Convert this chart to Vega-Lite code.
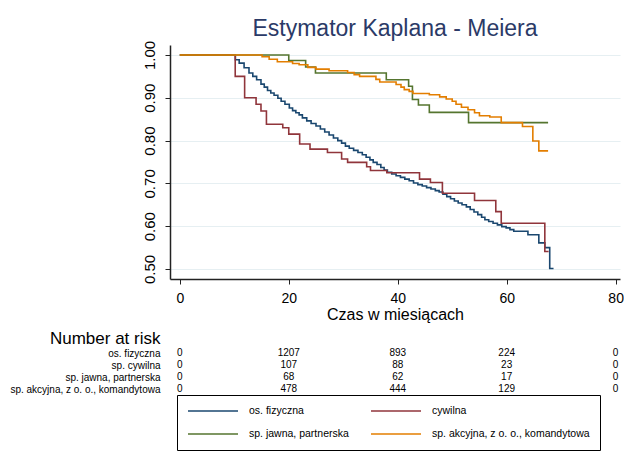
{
  "$schema": "https://vega.github.io/schema/vega-lite/v6.json",
  "background": "white",
  "padding": {"left": 9, "top": 18, "right": 0, "bottom": 4},
  "config": {
    "font": "Liberation Sans",
    "view": {"stroke": null},
    "axis": {"labelColor": "black", "titleColor": "black", "domainColor": "#222222", "tickColor": "#222222", "titleFontWeight": "normal"}
  },
  "bounds": "flush",
  "spacing": 68,
  "resolve": {"legend": {"color": "independent"}},
  "datasets": {
    "km": [
      {"g": "os. fizyczna", "t": 0, "s": 1.0},
      {"g": "os. fizyczna", "t": 10.2, "s": 0.989},
      {"g": "os. fizyczna", "t": 10.9, "s": 0.981},
      {"g": "os. fizyczna", "t": 11.8, "s": 0.970},
      {"g": "os. fizyczna", "t": 12.7, "s": 0.958},
      {"g": "os. fizyczna", "t": 13.4, "s": 0.950},
      {"g": "os. fizyczna", "t": 14.1, "s": 0.942},
      {"g": "os. fizyczna", "t": 14.9, "s": 0.932},
      {"g": "os. fizyczna", "t": 15.5, "s": 0.925},
      {"g": "os. fizyczna", "t": 16.1, "s": 0.917},
      {"g": "os. fizyczna", "t": 16.7, "s": 0.911},
      {"g": "os. fizyczna", "t": 17.3, "s": 0.906},
      {"g": "os. fizyczna", "t": 18.0, "s": 0.899},
      {"g": "os. fizyczna", "t": 18.6, "s": 0.892},
      {"g": "os. fizyczna", "t": 19.3, "s": 0.885},
      {"g": "os. fizyczna", "t": 20.1, "s": 0.876},
      {"g": "os. fizyczna", "t": 20.7, "s": 0.870},
      {"g": "os. fizyczna", "t": 21.3, "s": 0.865},
      {"g": "os. fizyczna", "t": 21.9, "s": 0.860},
      {"g": "os. fizyczna", "t": 22.5, "s": 0.853},
      {"g": "os. fizyczna", "t": 23.3, "s": 0.846},
      {"g": "os. fizyczna", "t": 24.1, "s": 0.840},
      {"g": "os. fizyczna", "t": 25.0, "s": 0.834},
      {"g": "os. fizyczna", "t": 25.8, "s": 0.827},
      {"g": "os. fizyczna", "t": 26.6, "s": 0.820},
      {"g": "os. fizyczna", "t": 27.4, "s": 0.813},
      {"g": "os. fizyczna", "t": 28.2, "s": 0.806},
      {"g": "os. fizyczna", "t": 29.0, "s": 0.800},
      {"g": "os. fizyczna", "t": 29.7, "s": 0.794},
      {"g": "os. fizyczna", "t": 30.4, "s": 0.787},
      {"g": "os. fizyczna", "t": 31.1, "s": 0.782},
      {"g": "os. fizyczna", "t": 31.9, "s": 0.777},
      {"g": "os. fizyczna", "t": 32.7, "s": 0.772},
      {"g": "os. fizyczna", "t": 33.5, "s": 0.767},
      {"g": "os. fizyczna", "t": 34.2, "s": 0.761},
      {"g": "os. fizyczna", "t": 34.9, "s": 0.755},
      {"g": "os. fizyczna", "t": 35.5, "s": 0.749},
      {"g": "os. fizyczna", "t": 36.2, "s": 0.744},
      {"g": "os. fizyczna", "t": 36.9, "s": 0.737},
      {"g": "os. fizyczna", "t": 37.5, "s": 0.731},
      {"g": "os. fizyczna", "t": 38.1, "s": 0.726},
      {"g": "os. fizyczna", "t": 38.9, "s": 0.722},
      {"g": "os. fizyczna", "t": 39.7, "s": 0.718},
      {"g": "os. fizyczna", "t": 40.5, "s": 0.714},
      {"g": "os. fizyczna", "t": 41.3, "s": 0.710},
      {"g": "os. fizyczna", "t": 42.1, "s": 0.706},
      {"g": "os. fizyczna", "t": 42.9, "s": 0.701},
      {"g": "os. fizyczna", "t": 43.7, "s": 0.697},
      {"g": "os. fizyczna", "t": 44.5, "s": 0.694},
      {"g": "os. fizyczna", "t": 45.3, "s": 0.690},
      {"g": "os. fizyczna", "t": 46.1, "s": 0.687},
      {"g": "os. fizyczna", "t": 46.9, "s": 0.683},
      {"g": "os. fizyczna", "t": 47.6, "s": 0.680},
      {"g": "os. fizyczna", "t": 48.3, "s": 0.675},
      {"g": "os. fizyczna", "t": 49.0, "s": 0.669},
      {"g": "os. fizyczna", "t": 49.7, "s": 0.664},
      {"g": "os. fizyczna", "t": 50.4, "s": 0.659},
      {"g": "os. fizyczna", "t": 51.1, "s": 0.654},
      {"g": "os. fizyczna", "t": 51.8, "s": 0.650},
      {"g": "os. fizyczna", "t": 52.6, "s": 0.645},
      {"g": "os. fizyczna", "t": 53.3, "s": 0.639},
      {"g": "os. fizyczna", "t": 54.0, "s": 0.633},
      {"g": "os. fizyczna", "t": 54.7, "s": 0.627},
      {"g": "os. fizyczna", "t": 55.4, "s": 0.621},
      {"g": "os. fizyczna", "t": 56.0, "s": 0.615},
      {"g": "os. fizyczna", "t": 56.7, "s": 0.611},
      {"g": "os. fizyczna", "t": 57.5, "s": 0.607},
      {"g": "os. fizyczna", "t": 58.3, "s": 0.603},
      {"g": "os. fizyczna", "t": 59.1, "s": 0.599},
      {"g": "os. fizyczna", "t": 59.9, "s": 0.596},
      {"g": "os. fizyczna", "t": 60.6, "s": 0.592},
      {"g": "os. fizyczna", "t": 61.3, "s": 0.588},
      {"g": "os. fizyczna", "t": 63.9, "s": 0.580},
      {"g": "os. fizyczna", "t": 65.9, "s": 0.561},
      {"g": "os. fizyczna", "t": 67.0, "s": 0.550},
      {"g": "os. fizyczna", "t": 67.9, "s": 0.501},
      {"g": "os. fizyczna", "t": 68.6, "s": 0.501},

      {"g": "cywilna", "t": 0, "s": 1.0},
      {"g": "cywilna", "t": 10.17, "s": 0.950},
      {"g": "cywilna", "t": 11.9, "s": 0.900},
      {"g": "cywilna", "t": 14.0, "s": 0.885},
      {"g": "cywilna", "t": 14.9, "s": 0.869},
      {"g": "cywilna", "t": 15.9, "s": 0.838},
      {"g": "cywilna", "t": 18.9, "s": 0.830},
      {"g": "cywilna", "t": 20.0, "s": 0.815},
      {"g": "cywilna", "t": 22.0, "s": 0.792},
      {"g": "cywilna", "t": 23.9, "s": 0.780},
      {"g": "cywilna", "t": 27.1, "s": 0.772},
      {"g": "cywilna", "t": 29.7, "s": 0.757},
      {"g": "cywilna", "t": 30.8, "s": 0.749},
      {"g": "cywilna", "t": 34.3, "s": 0.739},
      {"g": "cywilna", "t": 35.0, "s": 0.730},
      {"g": "cywilna", "t": 38.0, "s": 0.725},
      {"g": "cywilna", "t": 44.0, "s": 0.710},
      {"g": "cywilna", "t": 46.0, "s": 0.702},
      {"g": "cywilna", "t": 48.2, "s": 0.677},
      {"g": "cywilna", "t": 54.1, "s": 0.660},
      {"g": "cywilna", "t": 58.0, "s": 0.634},
      {"g": "cywilna", "t": 59.0, "s": 0.607},
      {"g": "cywilna", "t": 67.0, "s": 0.541},
      {"g": "cywilna", "t": 67.7, "s": 0.541},

      {"g": "sp. jawna, partnerska", "t": 0, "s": 1.0},
      {"g": "sp. jawna, partnerska", "t": 20.0, "s": 0.987},
      {"g": "sp. jawna, partnerska", "t": 23.1, "s": 0.972},
      {"g": "sp. jawna, partnerska", "t": 24.9, "s": 0.958},
      {"g": "sp. jawna, partnerska", "t": 37.9, "s": 0.942},
      {"g": "sp. jawna, partnerska", "t": 42.0, "s": 0.927},
      {"g": "sp. jawna, partnerska", "t": 42.7, "s": 0.896},
      {"g": "sp. jawna, partnerska", "t": 43.8, "s": 0.883},
      {"g": "sp. jawna, partnerska", "t": 45.8, "s": 0.866},
      {"g": "sp. jawna, partnerska", "t": 53.0, "s": 0.842},
      {"g": "sp. jawna, partnerska", "t": 67.6, "s": 0.842},

      {"g": "sp. akcyjna, z o. o., komandytowa", "t": 0, "s": 1.0},
      {"g": "sp. akcyjna, z o. o., komandytowa", "t": 15.1, "s": 0.996},
      {"g": "sp. akcyjna, z o. o., komandytowa", "t": 16.4, "s": 0.990},
      {"g": "sp. akcyjna, z o. o., komandytowa", "t": 17.9, "s": 0.984},
      {"g": "sp. akcyjna, z o. o., komandytowa", "t": 20.7, "s": 0.980},
      {"g": "sp. akcyjna, z o. o., komandytowa", "t": 21.9, "s": 0.977},
      {"g": "sp. akcyjna, z o. o., komandytowa", "t": 23.5, "s": 0.971},
      {"g": "sp. akcyjna, z o. o., komandytowa", "t": 25.0, "s": 0.967},
      {"g": "sp. akcyjna, z o. o., komandytowa", "t": 27.4, "s": 0.963},
      {"g": "sp. akcyjna, z o. o., komandytowa", "t": 30.8, "s": 0.959},
      {"g": "sp. akcyjna, z o. o., komandytowa", "t": 32.0, "s": 0.954},
      {"g": "sp. akcyjna, z o. o., komandytowa", "t": 33.0, "s": 0.950},
      {"g": "sp. akcyjna, z o. o., komandytowa", "t": 36.0, "s": 0.943},
      {"g": "sp. akcyjna, z o. o., komandytowa", "t": 36.7, "s": 0.937},
      {"g": "sp. akcyjna, z o. o., komandytowa", "t": 39.7, "s": 0.931},
      {"g": "sp. akcyjna, z o. o., komandytowa", "t": 40.6, "s": 0.925},
      {"g": "sp. akcyjna, z o. o., komandytowa", "t": 41.2, "s": 0.919},
      {"g": "sp. akcyjna, z o. o., komandytowa", "t": 42.1, "s": 0.915},
      {"g": "sp. akcyjna, z o. o., komandytowa", "t": 42.8, "s": 0.910},
      {"g": "sp. akcyjna, z o. o., komandytowa", "t": 45.8, "s": 0.907},
      {"g": "sp. akcyjna, z o. o., komandytowa", "t": 47.7, "s": 0.902},
      {"g": "sp. akcyjna, z o. o., komandytowa", "t": 48.9, "s": 0.897},
      {"g": "sp. akcyjna, z o. o., komandytowa", "t": 50.0, "s": 0.892},
      {"g": "sp. akcyjna, z o. o., komandytowa", "t": 50.7, "s": 0.885},
      {"g": "sp. akcyjna, z o. o., komandytowa", "t": 51.7, "s": 0.878},
      {"g": "sp. akcyjna, z o. o., komandytowa", "t": 52.9, "s": 0.872},
      {"g": "sp. akcyjna, z o. o., komandytowa", "t": 54.1, "s": 0.865},
      {"g": "sp. akcyjna, z o. o., komandytowa", "t": 55.0, "s": 0.858},
      {"g": "sp. akcyjna, z o. o., komandytowa", "t": 56.9, "s": 0.855},
      {"g": "sp. akcyjna, z o. o., komandytowa", "t": 59.0, "s": 0.842},
      {"g": "sp. akcyjna, z o. o., komandytowa", "t": 62.9, "s": 0.833},
      {"g": "sp. akcyjna, z o. o., komandytowa", "t": 64.8, "s": 0.799},
      {"g": "sp. akcyjna, z o. o., komandytowa", "t": 65.9, "s": 0.776},
      {"g": "sp. akcyjna, z o. o., komandytowa", "t": 67.6, "s": 0.776}
    ],
    "risk": [
      {"grupa": "os. fizyczna", "t": 0, "n": 0},
      {"grupa": "os. fizyczna", "t": 20, "n": 1207},
      {"grupa": "os. fizyczna", "t": 40, "n": 893},
      {"grupa": "os. fizyczna", "t": 60, "n": 224},
      {"grupa": "os. fizyczna", "t": 80, "n": 0},
      {"grupa": "sp. cywilna", "t": 0, "n": 0},
      {"grupa": "sp. cywilna", "t": 20, "n": 107},
      {"grupa": "sp. cywilna", "t": 40, "n": 88},
      {"grupa": "sp. cywilna", "t": 60, "n": 23},
      {"grupa": "sp. cywilna", "t": 80, "n": 0},
      {"grupa": "sp. jawna, partnerska", "t": 0, "n": 0},
      {"grupa": "sp. jawna, partnerska", "t": 20, "n": 68},
      {"grupa": "sp. jawna, partnerska", "t": 40, "n": 62},
      {"grupa": "sp. jawna, partnerska", "t": 60, "n": 17},
      {"grupa": "sp. jawna, partnerska", "t": 80, "n": 0},
      {"grupa": "sp. akcyjna, z o. o., komandytowa", "t": 0, "n": 0},
      {"grupa": "sp. akcyjna, z o. o., komandytowa", "t": 20, "n": 478},
      {"grupa": "sp. akcyjna, z o. o., komandytowa", "t": 40, "n": 444},
      {"grupa": "sp. akcyjna, z o. o., komandytowa", "t": 60, "n": 129},
      {"grupa": "sp. akcyjna, z o. o., komandytowa", "t": 80, "n": 0}
    ]
  },
  "vconcat": [
    {
      "title": {"text": "Estymator Kaplana - Meiera", "fontSize": 23, "fontWeight": "normal", "color": "#2b3a67", "anchor": "middle", "offset": -1},
      "width": 450,
      "height": 234,
      "data": {"name": "km"},
      "mark": {"type": "line", "interpolate": "step-after", "strokeWidth": 1.6},
      "encoding": {
        "x": {
          "field": "t", "type": "quantitative",
          "scale": {"domain": [-1.8, 80.8], "nice": false, "zero": false},
          "axis": {"values": [0, 20, 40, 60, 80], "title": "Czas w miesiącach", "titleFontSize": 16, "titlePadding": 1, "labelFontSize": 14, "labelPadding": 7, "tickSize": 5, "grid": false, "domainWidth": 1.5}
        },
        "y": {
          "field": "s", "type": "quantitative",
          "scale": {"domain": [0.4766, 1.0233], "nice": false, "zero": false},
          "axis": {"values": [0.5, 0.6, 0.7, 0.8, 0.9, 1.0], "format": ".2f", "title": null, "labelAngle": -90, "labelAlign": "center", "labelBaseline": "bottom", "labelFontSize": 15, "labelPadding": 8, "tickSize": 5, "domainWidth": 1.5, "grid": true, "gridColor": "#e6eff2", "gridWidth": 1.2}
        },
        "color": {
          "field": "g", "type": "nominal",
          "scale": {
            "domain": ["os. fizyczna", "sp. jawna, partnerska", "cywilna", "sp. akcyjna, z o. o., komandytowa"],
            "range": ["#1a476f", "#55752f", "#90353b", "#e37e00"]
          },
          "legend": {
            "orient": "none", "legendX": 7, "legendY": 350, "title": null,
            "columns": 2, "symbolType": "stroke", "symbolSize": 2500, "symbolStrokeWidth": 1.6,
            "labelFontSize": 10.5, "labelColor": "black", "labelOffset": 10, "labelLimit": 400,
            "strokeColor": "black", "padding": 10, "clipHeight": 12, "rowPadding": 11, "columnPadding": 21
          }
        }
      }
    },
    {
      "width": 450,
      "height": 48,
      "data": {"name": "risk"},
      "mark": {"type": "text", "fontSize": 10, "color": "black"},
      "encoding": {
        "x": {"field": "t", "type": "quantitative", "scale": {"domain": [-1.8, 80.8], "nice": false, "zero": false}, "axis": null},
        "y": {
          "field": "grupa", "type": "nominal",
          "sort": ["os. fizyczna", "sp. cywilna", "sp. jawna, partnerska", "sp. akcyjna, z o. o., komandytowa"],
          "scale": {"paddingInner": 0, "paddingOuter": 0},
          "axis": {"title": "Number at risk", "titleAngle": 0, "titleAlign": "right", "titleBaseline": "alphabetic", "titleX": -10, "titleY": -4, "titleFontSize": 17, "labelFontSize": 10, "labelPadding": 10, "labelLimit": 300, "domain": false, "ticks": false, "grid": false}
        },
        "text": {"field": "n", "type": "quantitative", "format": "d"}
      }
    }
  ]
}
